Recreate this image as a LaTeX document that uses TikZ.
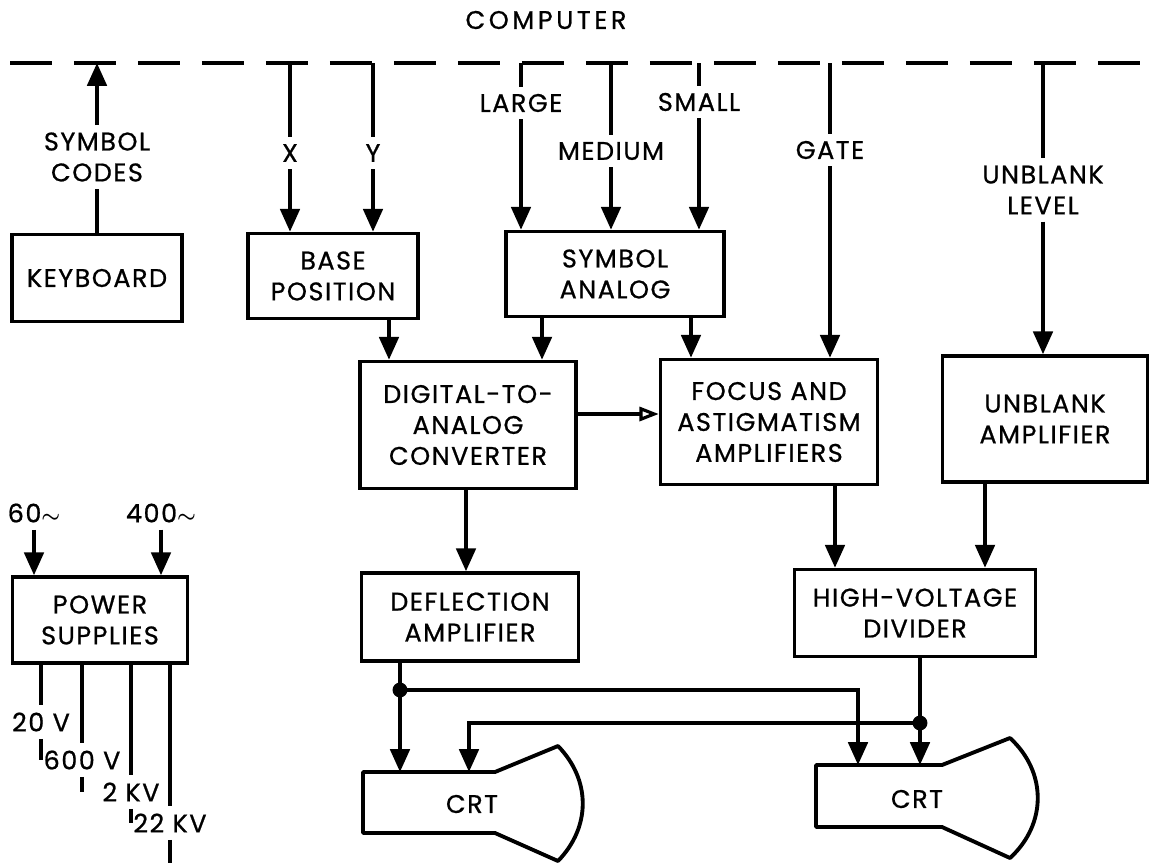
\documentclass[tikz,border=0pt]{standalone}
\usepackage{amsmath}
\usepackage{fontspec}
\setmainfont{Poppins}[LetterSpace=6,FakeBold=0.8]
\usetikzlibrary{arrows.meta}
\newcommand{\dsfont}{\fontsize{14.5}{17.6}\selectfont}
\newcommand{\ac}{{\large$\boldsymbol{\sim}$}}
\tikzset{
  blk/.style={draw, line width=2pt, align=center, font=\dsfont, inner sep=2pt},
  lbl/.style={align=center, font=\dsfont, inner sep=4pt},
  wire/.style={line width=2.2pt},
  arr/.style={wire, -{Triangle[length=13pt,width=11pt]}},
  openarr/.style={wire, -{Triangle[open,length=11pt,width=8pt,line width=1.8pt]}},
  busline/.style={line width=2.4pt, dash pattern=on 0.84cm off 0.44cm},
  joint/.style={circle, fill, inner sep=0pt, minimum size=8.5pt}
}
\begin{document}
\begin{tikzpicture}[x=0.02cm,y=-0.02cm]
  \coordinate (nw) at (0,0);
  \coordinate (se) at (1150,863);
  \useasboundingbox (nw) rectangle (se);

  % computer bus
  \node[lbl,font=\dsfont\addfontfeature{LetterSpace=14}] (comp) at (546,20) {COMPUTER};
  \coordinate (bus) at (10,63);
  \coordinate (busend) at (1150,63);
  \draw[busline] (bus) -- (busend);

  % blocks
  \node[blk,minimum width=3.4cm,minimum height=1.74cm] (kbd) at (97,278) {KEYBOARD};
  \node[blk,minimum width=3.4cm,minimum height=1.7cm] (base) at (333,276) {BASE\\POSITION};
  \node[blk,minimum width=4.36cm,minimum height=1.7cm] (sa) at (615,274) {SYMBOL\\ANALOG};
  \node[blk,minimum width=4.32cm,minimum height=2.54cm] (dac) at (468,425) {DIGITAL-TO-\\ANALOG\\CONVERTER};
  \node[blk,minimum width=4.34cm,minimum height=2.5cm] (faa) at (769,422) {FOCUS AND\\ASTIGMATISM\\AMPLIFIERS};
  \node[blk,minimum width=4.1cm,minimum height=2.52cm] (ua) at (1045,419) {UNBLANK\\AMPLIFIER};
  \node[blk,minimum width=4.34cm,minimum height=1.76cm] (defl) at (470,617) {DEFLECTION\\AMPLIFIER};
  \node[blk,minimum width=4.82cm,minimum height=1.74cm] (hv) at (915,613) {HIGH-VOLTAGE\\DIVIDER};
  \node[blk,minimum width=3.5cm,minimum height=1.72cm] (psu) at (100,620) {POWER\\SUPPLIES};

  % signal labels
  \node[lbl] (codes) at (97,157) {SYMBOL\\CODES};
  \node[lbl] (xl) at (290,153) {X};
  \node[lbl] (yl) at (373,153) {Y};
  \node[lbl] (large) at (521,103) {LARGE};
  \node[lbl] (medium) at (611,151) {MEDIUM};
  \node[lbl] (small) at (699,102) {SMALL};
  \node[lbl] (gate) at (830,150) {GATE};
  \node[lbl] (level) at (1043,190) {UNBLANK\\LEVEL};
  \node[lbl] (in60) at (34,513) {60\ac};
  \node[lbl] (in400) at (161,513) {400\ac};
  \node[lbl] (v20) at (41,722) {20 V};
  \node[lbl] (v600) at (82,760) {600 V};
  \node[lbl] (v2k) at (131,792) {2 KV};
  \node[lbl] (v22k) at (170,823) {22 KV};

  % to and from the computer
  \draw[wire] (kbd.north -| codes) -- (codes.south);
  \draw[arr] (codes.north) -- (codes.north |- bus);
  \foreach \s/\t in {xl/base,yl/base,large/sa,medium/sa,small/sa,gate/faa,level/ua} {
    \draw[wire] (bus -| \s) -- (\s.north);
    \draw[arr] (\s.south) -- (\s.south |- \t.north);
  }

  % block to block
  \draw[arr] ([xshift=1.12cm]base.south) -- ([xshift=1.12cm]base.south |- dac.north);
  \draw[arr] ([xshift=-1.46cm]sa.south) -- ([xshift=-1.46cm]sa.south |- dac.north);
  \draw[arr] ([xshift=1.52cm]sa.south) -- ([xshift=1.52cm]sa.south |- faa.north);
  \draw[openarr] ([yshift=0.22cm]dac.east) -- ([yshift=0.22cm]dac.east -| faa.west);
  \draw[arr] ([xshift=-0.04cm]dac.south) -- ([xshift=-0.04cm]dac.south |- defl.north);
  \draw[arr] ([xshift=1.32cm]faa.south) -- ([xshift=1.32cm]faa.south |- hv.north);
  \draw[arr] ([xshift=-1.2cm]ua.south) -- ([xshift=-1.2cm]ua.south |- hv.north);

  % power supplies
  \draw[arr] (in60.south) -- (in60.south |- psu.north);
  \draw[arr] (in400.south) -- (in400.south |- psu.north);
  \foreach \v/\w in {v20/v600,v600/v2k,v2k/v22k,v22k/se} {
    \draw[wire] (psu.south -| \v) -- (\v.north);
    \draw[wire] (\v.south) -- (\v.south |- \w);
  }

  % crts
  \coordinate (crtL) at (363,772);
  \coordinate (crtR) at (816,765);
  \draw[wire,line join=round] (crtL) -- (495,772) -- (558,746)
    .. controls (591,780) and (591,827) .. (558,861) -- (495,833) -- (363,833) -- cycle;
  \draw[wire,line join=round] (crtR) -- (942,765) -- (1010,738)
    .. controls (1047,772) and (1047,824) .. (1010,858) -- (942,827) -- (816,827) -- cycle;
  \node[lbl] (crtLtxt) at (472,804) {CRT};
  \node[lbl] (crtRtxt) at (917,799) {CRT};

  \coordinate (jL) at (400,690);
  \coordinate (jR) at (920,723);
  \coordinate (inLb) at (469,772);
  \coordinate (inRa) at (858,765);
  \draw[arr] (defl.south -| jL) -- (jL |- crtL);
  \draw[arr] (hv.south -| jR) -- (jR |- crtR);
  \draw[arr] (jL) -| (inRa);
  \draw[arr] (jR) -| (inLb);
  \node[joint] (dotL) at (jL) {};
  \node[joint] (dotR) at (jR) {};
\end{tikzpicture}
\end{document}
